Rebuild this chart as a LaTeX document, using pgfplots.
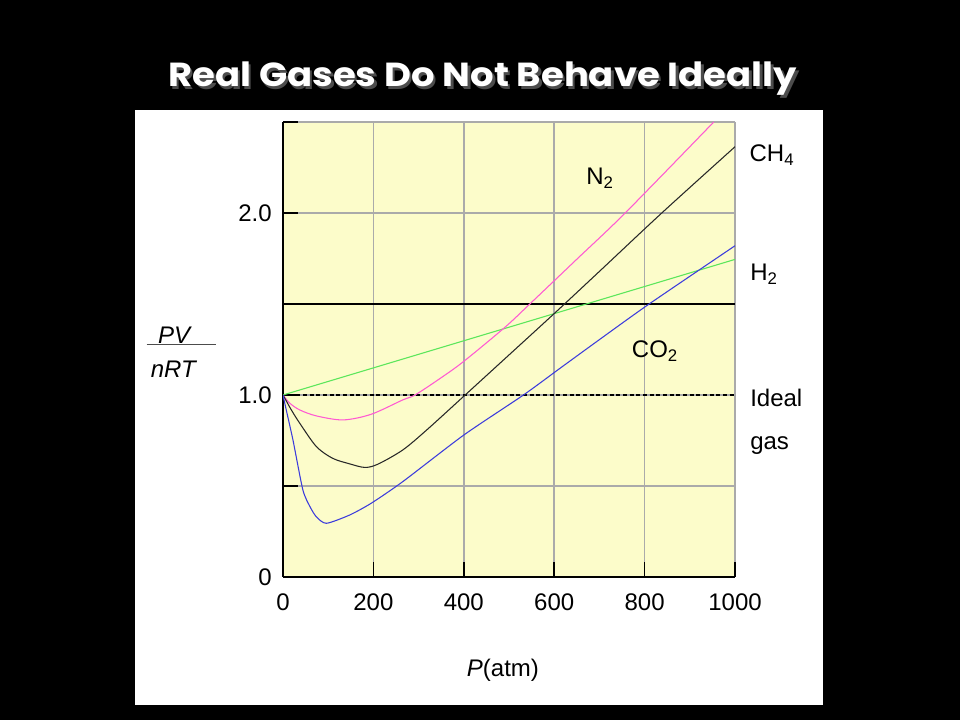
\documentclass[border=0pt]{standalone}
\usepackage{pgfplots}
\pgfplotsset{compat=1.18}
\usepackage{fontspec}
\setmainfont{Liberation Sans}
\newfontfamily\titlefont{Poppins}

\definecolor{bgyellow}{RGB}{252,252,202}
\definecolor{gridgray}{RGB}{170,170,170}
\definecolor{n2col}{RGB}{255,90,210}
\definecolor{h2col}{RGB}{90,230,90}
\definecolor{co2col}{RGB}{60,60,220}
\definecolor{ch4col}{RGB}{40,40,40}

\begin{document}
\begin{tikzpicture}[x=1pt,y=1pt]
\fill[black] (0,0) rectangle (720,540);
\useasboundingbox (0,0) rectangle (720,540);
\fill[white] (101.25,11.25) rectangle (617.25,457.5);
% title with shadow
\node[anchor=base, xscale=1.11, text=gray!60!black, font=\titlefont\bfseries\fontsize{25}{28}\selectfont] at (364,473) {Real Gases Do Not Behave Ideally};
\node[anchor=base, xscale=1.11, text=white, font=\titlefont\bfseries\fontsize{25}{28}\selectfont] at (362,475) {Real Gases Do Not Behave Ideally};

\begin{axis}[
  at={(212.25pt,107.25pt)}, anchor=south west,
  scale only axis, width=339pt, height=341.25pt,
  xmin=0, xmax=1000, ymin=0, ymax=2.5,
  axis x line*=bottom, axis y line*=left,
  axis line style={-, black, line width=0.9pt},
  axis background/.style={fill=bgyellow},
  xtick={0,200,400,600,800,1000},
  xticklabels={0,200,400,600,800,1000},
  ytick={0,0.5,1,1.5,2,2.5},
  yticklabels={0,,1.0,,2.0,},
  grid=major,
  major grid style={gridgray, line width=1.1pt},
  tick align=inside,
  major tick length=11pt,
  tick style={black, line width=1.3pt},
  /pgf/number format/assume math mode=true,
  xticklabel style={font=\fontsize{18}{20}\selectfont, yshift=-9pt},
  yticklabel style={font=\fontsize{18}{20}\selectfont, xshift=-5pt},
  clip=true,
]
% Ideal gas
\addplot[black, line width=0.8pt, dash pattern=on 3pt off 2pt] coordinates {(0,1) (1000,1)};
% reference line at 1.5
\addplot[black, line width=1.4pt] coordinates {(0,1.5) (1000,1.5)};
% H2
\addplot[h2col, line width=0.8pt] coordinates {(0,1) (1000,1.745)};
% N2
\addplot[n2col, line width=0.8pt, smooth, tension=0.5] coordinates {
(0,1.0) (15,0.955) (37,0.918) (74,0.885) (133,0.863) (195,0.894) (265,0.973) (292,1.0) (347,1.09) (399,1.183) (491,1.372) (546,1.5) (650,1.746) (757,2.0) (953,2.5)};
% CH4
\addplot[ch4col, line width=0.8pt, smooth, tension=0.5] coordinates {
(0,1) (18,0.92) (37,0.845) (74,0.716) (110,0.652) (147,0.622) (181,0.602) (210,0.62) (265,0.698) (318,0.808) (403,1.0) (500,1.22) (602,1.452) (700,1.679) (838,2.0) (1000,2.364)};
% CO2
\addplot[co2col, line width=0.8pt, smooth, tension=0.4] coordinates {
(0,1) (7,0.92) (22,0.753) (44,0.478) (60,0.385) (74,0.33) (96,0.295) (147,0.34) (195,0.405) (265,0.524) (400,0.78) (532,1.0) (613,1.147) (701,1.306) (810,1.5) (1000,1.82)};
\end{axis}

% labels
\begin{scope}[every node/.style={font=\fontsize{18}{20}\selectfont, inner sep=0pt}]
\node[anchor=base west] at (439.5,401.25) {N\textsubscript{2}};
\node[anchor=base west] at (473.75,272) {CO\textsubscript{2}};
\node[anchor=base west] at (562,418.7) {CH\textsubscript{4}};
\node[anchor=base west] at (562.5,329.5) {H\textsubscript{2}};
\node[anchor=base west] at (562.5,234.75) {Ideal};
\node[anchor=base west] at (562.5,203) {gas};
\node[anchor=base west] at (350,32.5) {\textit{P}(atm)};
\node[anchor=base] at (131.25,282.5) {\textit{PV}};
\node[anchor=base] at (130.5,257) {\textit{nRT}};
\end{scope}
\draw[black!70, line width=0.8pt] (110,281.8) -- (162,281.8);
\end{tikzpicture}
\end{document}
